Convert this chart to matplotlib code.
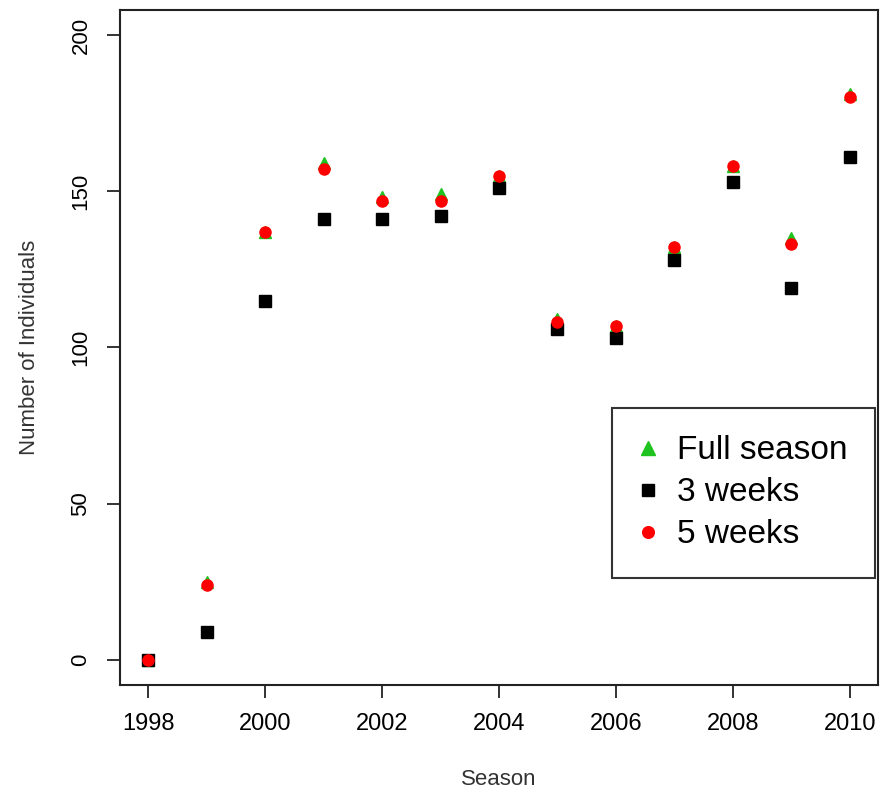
import numpy as np
import matplotlib.pyplot as plt

plt.rcParams['font.family'] = ['Liberation Sans', 'DejaVu Sans']

# counts per season
seasons = np.arange(1998, 2011)
full_season = [0, 25, 137, 159, 148, 149, 155, 109, 107, 132, 158, 135, 181]
three_weeks = [0, 9, 115, 141, 141, 142, 151, 106, 103, 128, 153, 119, 161]
five_weeks = [0, 24, 137, 157, 147, 147, 155, 108, 107, 132, 158, 133, 180]

xticks = [1998, 2000, 2002, 2004, 2006, 2008, 2010]
yticks = [0, 50, 100, 150, 200]

fig = plt.figure(figsize=(8.82, 8.05), dpi=100)
ax = fig.add_axes([120 / 882, 120 / 805, 758 / 882, 675 / 805])

ax.plot(seasons, full_season, linestyle='none', marker='^', ms=9,
        color='#1fc31f', label='Full season')
ax.plot(seasons, three_weeks, linestyle='none', marker='s', ms=8.5,
        color='black', label='3 weeks')
ax.plot(seasons, five_weeks, linestyle='none', marker='o', ms=8,
        color='#ff0000', label='5 weeks')

ax.set_xlim(1997.52, 2010.48)
ax.set_ylim(-8, 208)
ax.set_xticks(xticks)
ax.set_yticks(yticks)
ax.set_xticklabels([str(t) for t in xticks], fontsize=17)
ax.set_yticklabels([str(t) for t in yticks], fontsize=16, rotation=90,
                   va='center')
ax.tick_params(direction='out', length=9.5, width=1.3, color='#222222', pad=11)

for s in ax.spines.values():
    s.set_linewidth(1.5)
    s.set_color('#222222')

ax.set_xlabel('Season', fontsize=16, color='#333333', labelpad=24)
ax.set_ylabel('Number of Individuals', fontsize=16, color='#333333',
              labelpad=22)

leg = ax.legend(loc='lower right', bbox_to_anchor=(0.996, 0.1585),
                fontsize=24, frameon=True, fancybox=False, borderpad=0.83,
                handletextpad=0.65, handlelength=0.45, labelspacing=0.33,
                markerscale=1.05, borderaxespad=0)
leg.get_frame().set_edgecolor('black')
leg.get_frame().set_linewidth(1.5)

fig.savefig('out.png', dpi=100)
